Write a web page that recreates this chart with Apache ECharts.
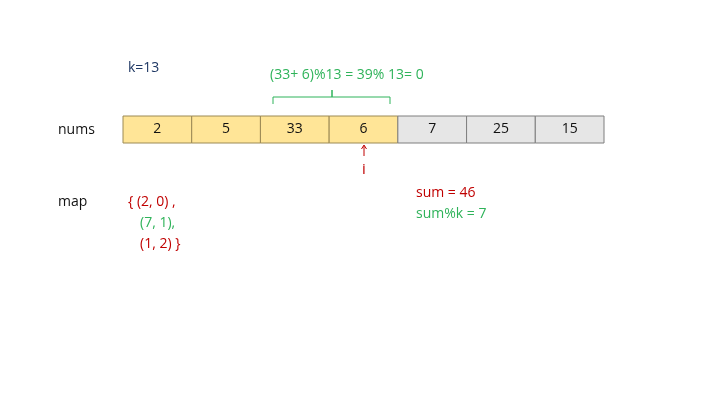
<!DOCTYPE html><html><head><meta charset="utf-8"><script src="https://cdn.jsdelivr.net/npm/echarts@6/dist/echarts.min.js"></script>
<style>html,body{margin:0;padding:0;background:#fff}#c{width:720px;height:405px}</style></head><body><div id="c"></div><script>
const nums=[2,5,33,6,7,25,15];
const highlighted=[true,true,true,true,false,false,false];
const mapLines=['{ (2, 0) ,','(7, 1),','(1, 2) }'];
const F='"Open Sans", "Noto Sans", sans-serif';
const G='#2fb35a',R='#c00000',N='#1f3864';
const chart=echarts.init(document.getElementById('c'));
function T(x,y,text,fill,size,align){return {type:'text',left:undefined,x:x,y:y,style:{text:text,fill:fill,font:(size||14)+'px '+F,textAlign:align||'left',textVerticalAlign:'middle'}};}
chart.setOption({animation:false,
grid:{left:123,top:116,width:481,height:27},
xAxis:{type:'category',data:nums.map(String),show:false},
yAxis:{type:'value',min:0,max:1,show:false},
series:[{type:'custom',data:nums.map((v,i)=>[i,1,v]),renderItem:(p,api)=>{
 const i=api.value(0),s=api.size([1,1]),c=api.coord([i,1]);
 const hl=highlighted[i];
 return {type:'group',children:[{type:'rect',shape:{x:c[0]-s[0]/2,y:c[1],width:s[0],height:s[1]},style:{fill:hl?'#ffe597':'#e6e6e6',stroke:hl?'#9c8a55':'#7f7f7f',lineWidth:1}},
 {type:'text',x:c[0],y:c[1]+s[1]/2,style:{text:String(api.value(2)),fill:'#111',font:'14px '+F,textAlign:'center',textVerticalAlign:'middle'}}]};
}}],
graphic:[
 T(128,68,'k=13',N,14),
 T(270,75,'(33+ 6)%13 = 39% 13= 0',G,14),
 {type:'polyline',shape:{points:[[273,104],[273,97],[332,97],[332,90],[332,97],[390,97],[390,104]]},style:{stroke:G,lineWidth:1,fill:null}},
 T(58,130,'nums','#111',14),
 {type:'line',shape:{x1:364,y1:156,x2:364,y2:146},style:{stroke:R,lineWidth:1}},
 {type:'polyline',shape:{points:[[361.5,149],[364,145],[366.5,149]]},style:{stroke:R,lineWidth:1,fill:null}},
 T(364,170,'i',R,15,'center'),
 T(58,202,'map','#111',14),
 T(128,202,mapLines[0],R,14),
 T(140,223,mapLines[1],G,14),
 T(140,244,mapLines[2],R,14),
 T(416,193,'sum = 46',R,14),
 T(416,214,'sum%k = 7',G,14)
]});
</script></body></html>
